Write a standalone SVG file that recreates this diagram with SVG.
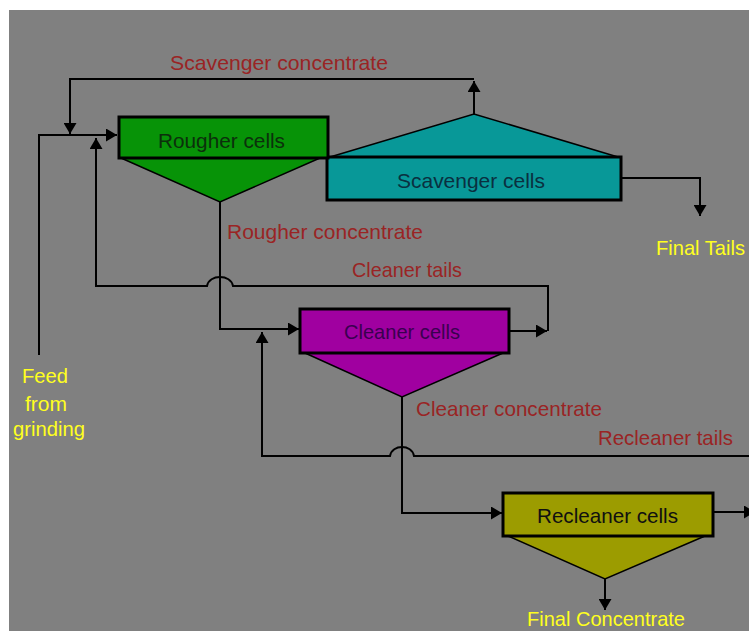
<svg xmlns="http://www.w3.org/2000/svg" width="749" height="631" viewBox="0 0 749 631">
<defs>
<style>
.bg{fill:#ffffff}
.panel{fill:#808080}
.box{stroke:#000;stroke-width:3}
.tri{stroke:#000;stroke-width:1.5;stroke-linejoin:miter}
.conn{fill:none;stroke:#000;stroke-width:2}
text{font-family:"Liberation Sans",Arial,sans-serif;font-size:21px}
.lbl{fill:#9a2424}
.out{fill:#ffff1e}
.cap{fill:#101010}
</style>
<marker id="arr" markerUnits="userSpaceOnUse" markerWidth="12" markerHeight="13" viewBox="0 0 12 13" refX="11" refY="6.5" orient="auto">
<path d="M0,0 L11,6.5 L0,13 Z" fill="#000"/>
</marker>
</defs>
<rect class="bg" x="0" y="0" width="749" height="631"/>
<rect class="panel" x="9" y="10" width="740" height="621"/>

<g id="connectors">
<path class="conn" d="M474,114 V81" marker-end="url(#arr)"/>
<path class="conn" d="M474,79 H70 V134" marker-end="url(#arr)"/>
<path class="conn" d="M39,355 V135 H117" marker-end="url(#arr)"/>
<path class="conn" d="M509,331 H547" marker-end="url(#arr)"/>
<path class="conn" d="M548,331 V286 H233 C231,274 209,274 207,286 H96 V138" marker-end="url(#arr)"/>
<path class="conn" d="M220,202 V329 H299" marker-end="url(#arr)"/>
<path class="conn" d="M621,178 H700 V216" marker-end="url(#arr)"/>
<path class="conn" d="M402,397 V513 H502" marker-end="url(#arr)"/>
<path class="conn" d="M749,456 H414 C412,444 392,444 390,456 H262 V332" marker-end="url(#arr)"/>
<path class="conn" d="M713,512 H755" marker-end="url(#arr)"/>
<path class="conn" d="M605,579 V610" marker-end="url(#arr)"/>
</g>

<g id="scavenger">
<polygon class="tri" points="330,157 474,114 618,157" fill="#089898"/>
<rect class="box" x="327" y="157" width="294" height="43" fill="#089898"/>
<text x="397" y="188" textLength="148" lengthAdjust="spacingAndGlyphs" fill="#0a3040">Scavenger cells</text>
</g>

<g id="rougher">
<polygon class="tri" points="121,158 220,202 320,158" fill="#079307"/>
<rect class="box" x="119" y="117" width="209" height="41" fill="#079307"/>
<text x="158" y="148" textLength="127" lengthAdjust="spacingAndGlyphs" fill="#0c300c">Rougher cells</text>
</g>

<g id="cleaner">
<polygon class="tri" points="305,353 402,397 503,353" fill="#a000a0"/>
<rect class="box" x="300" y="309" width="209" height="44" fill="#a000a0"/>
<text x="344" y="339" textLength="116" lengthAdjust="spacingAndGlyphs" fill="#3a0050">Cleaner cells</text>
</g>

<g id="recleaner">
<polygon class="tri" points="508,536 605,579 705,536" fill="#9c9c00"/>
<rect class="box" x="503" y="493" width="210" height="43" fill="#9c9c00"/>
<text x="537" y="523" textLength="141" lengthAdjust="spacingAndGlyphs" class="cap">Recleaner cells</text>
</g>

<g id="labels">
<text class="lbl" x="170" y="70" textLength="218" lengthAdjust="spacingAndGlyphs">Scavenger concentrate</text>
<text class="lbl" x="227" y="239" textLength="196" lengthAdjust="spacingAndGlyphs">Rougher concentrate</text>
<text class="lbl" x="352" y="277" textLength="110" lengthAdjust="spacingAndGlyphs">Cleaner tails</text>
<text class="lbl" x="416" y="416" textLength="186" lengthAdjust="spacingAndGlyphs">Cleaner concentrate</text>
<text class="lbl" x="598" y="445" textLength="135" lengthAdjust="spacingAndGlyphs">Recleaner tails</text>
<text class="out" x="656" y="255" textLength="89" lengthAdjust="spacingAndGlyphs">Final Tails</text>
<text class="out" x="527" y="626" textLength="158" lengthAdjust="spacingAndGlyphs">Final Concentrate</text>
<text class="out" x="22" y="383" textLength="46" lengthAdjust="spacingAndGlyphs">Feed</text>
<text class="out" x="25" y="411" textLength="42" lengthAdjust="spacingAndGlyphs">from</text>
<text class="out" x="13" y="436" textLength="72" lengthAdjust="spacingAndGlyphs">grinding</text>
</g>
</svg>
